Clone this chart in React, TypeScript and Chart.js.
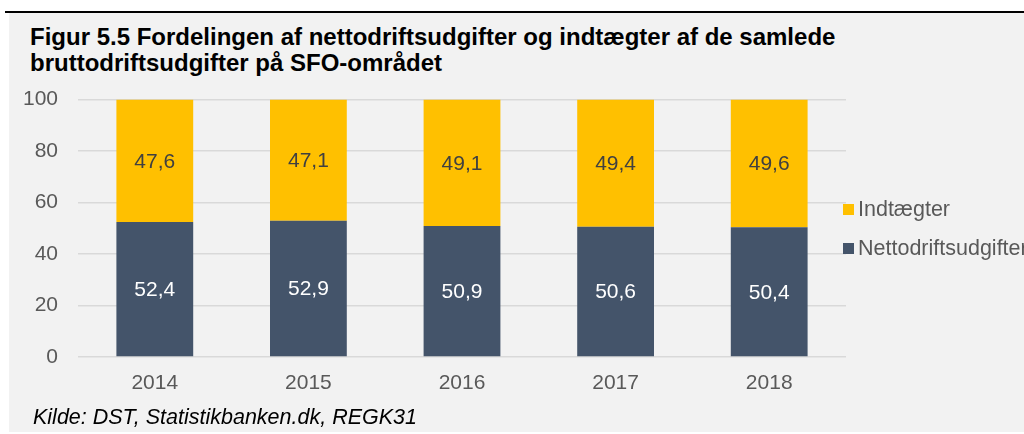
import React, { useEffect, useRef } from "react";
import { Chart, registerables } from "chart.js";

Chart.register(...registerables);

const years = ["2014", "2015", "2016", "2017", "2018"];
const netto = [52.4, 52.9, 50.9, 50.6, 50.4];
const indtaegter = [47.6, 47.1, 49.1, 49.4, 49.6];
const yTicks = [0, 20, 40, 60, 80, 100];
const seriesNames = ["Nettodriftsudgifter", "Indtægter"];
const colors = ["#44546A", "#FFC000"];
const labelColors = ["#FFFFFF", "#404040"];

const FONT = "'Liberation Sans', Arial, sans-serif";

const fmt = (v: number) => v.toFixed(1).replace(".", ",");

const valueLabels = {
  id: "valueLabels",
  afterDatasetsDraw(chart: any) {
    const ctx = chart.ctx;
    ctx.save();
    ctx.font = `21px ${FONT}`;
    ctx.textAlign = "center";
    ctx.textBaseline = "middle";
    chart.data.datasets.forEach((ds: any, di: number) => {
      const meta = chart.getDatasetMeta(di);
      meta.data.forEach((bar: any, i: number) => {
        const { x, y, base } = bar.getProps(["x", "y", "base"], true);
        ctx.fillStyle = labelColors[di];
        ctx.fillText(fmt(ds.data[i]), x, (y + base) / 2 + 1);
      });
    });
    ctx.restore();
  },
};

export default function App() {
  const ref = useRef<HTMLCanvasElement>(null);
  useEffect(() => {
    if (!ref.current) return;
    const chart = new Chart(ref.current, {
      type: "bar",
      data: {
        labels: years,
        datasets: [
          { label: seriesNames[0], data: netto, backgroundColor: colors[0] },
          { label: seriesNames[1], data: indtaegter, backgroundColor: colors[1] },
        ],
      },
      options: {
        responsive: false,
        animation: false,
        devicePixelRatio: 1,
        layout: { padding: { left: 0, right: 178, top: 0, bottom: 0 } },
        datasets: { bar: { categoryPercentage: 1, barPercentage: 0.5 } },
        plugins: {
          legend: { display: false },
          tooltip: { enabled: false },
        },
        scales: {
          x: {
            stacked: true,
            grid: { display: false, drawTicks: false },
            border: { display: false },
            ticks: { color: "#595959", font: { family: FONT, size: 21 }, padding: 14 },
            afterFit: (s: any) => {
              s.height = 53;
            },
          },
          y: {
            stacked: true,
            min: 0,
            max: 100,
            afterBuildTicks: (s: any) => {
              s.ticks = yTicks.map((v) => ({ value: v }));
            },
            grid: { color: "#D9D9D9", lineWidth: 1.5, drawTicks: false },
            border: { display: false },
            ticks: { color: "#595959", font: { family: FONT, size: 21 }, padding: 20 },
            afterFit: (s: any) => {
              s.width = 78;
            },
          },
        },
      },
      plugins: [valueLabels],
    });
    return () => chart.destroy();
  }, []);

  const legendItems = [
    { name: seriesNames[1], color: colors[1], top: 197 },
    { name: seriesNames[0], color: colors[0], top: 236 },
  ];

  return (
    <div
      style={{
        position: "absolute",
        left: 0,
        top: 0,
        width: 1024,
        height: 434,
        overflow: "hidden",
        background: "#FFFFFF",
        fontFamily: FONT,
      }}
    >
      <div style={{ position: "absolute", left: 9, top: 13, right: 0, bottom: 2, background: "#F2F2F2" }} />
      <div style={{ position: "absolute", left: 5, top: 11, right: 0, height: 2, background: "#000000" }} />
      <div
        style={{
          position: "absolute",
          left: 30,
          top: 24,
          fontWeight: "bold",
          fontSize: 24,
          lineHeight: "26px",
          color: "#000000",
          whiteSpace: "nowrap",
        }}
      >
        Figur 5.5 Fordelingen af nettodriftsudgifter og indtægter af de samlede
        <br />
        bruttodriftsudgifter på SFO-området
      </div>
      <canvas
        ref={ref}
        width={1024}
        height={343}
        style={{ position: "absolute", left: 0, top: 67, width: 1024, height: 343 }}
      />
      {legendItems.map((it) => (
        <div
          key={it.name}
          style={{ position: "absolute", left: 843, top: it.top, height: 24, display: "flex", alignItems: "center", whiteSpace: "nowrap" }}
        >
          <div style={{ width: 11, height: 11, background: it.color, marginRight: 4 }} />
          <span style={{ fontSize: 21.5, color: "#595959", lineHeight: "24px" }}>{it.name}</span>
        </div>
      ))}
      <div
        style={{
          position: "absolute",
          left: 33,
          top: 405,
          fontStyle: "italic",
          fontSize: 21.5,
          lineHeight: "24px",
          color: "#000000",
          whiteSpace: "nowrap",
        }}
      >
        Kilde: DST, Statistikbanken.dk, REGK31
      </div>
    </div>
  );
}
